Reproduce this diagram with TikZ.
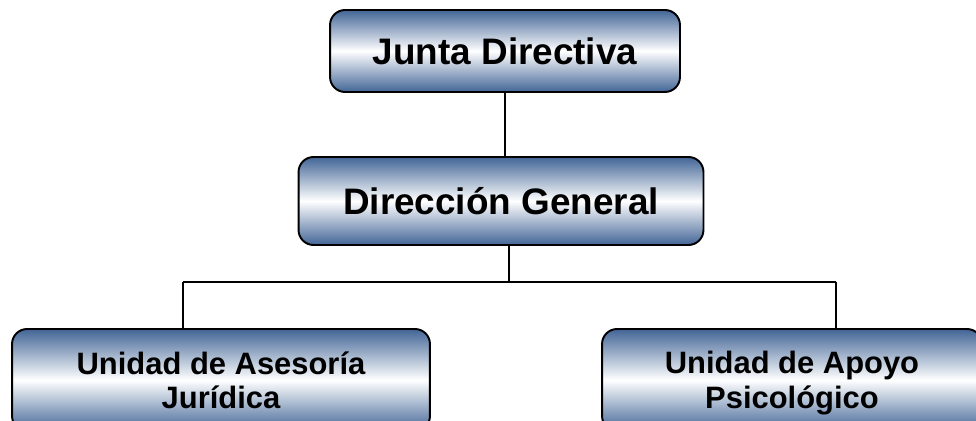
\documentclass[tikz,border=0pt]{standalone}
\usepackage{fontspec}
\setmainfont{Liberation Sans}
\definecolor{boxblue}{RGB}{66,101,150}

\begin{document}
\begin{tikzpicture}[x=0.02cm, y=-0.02cm,
    box/.style={draw=black, line width=1.1pt, rounded corners=0.3cm,
        top color=boxblue, bottom color=boxblue, middle color=white,
        align=center, inner sep=0pt},
    bigtxt/.style={font=\fontsize{21}{25}\selectfont\bfseries},
    smalltxt/.style={font=\fontsize{17.6}{19.6}\selectfont\bfseries, text depth=0pt},
    link/.style={line width=0.8pt}]

    \clip (0,0) rectangle (976,421);

	\node[box, bigtxt, minimum width=7cm, minimum height=1.64cm] (junta) at (505,51) {Junta Directiva};
	\node[box, bigtxt, minimum width=8.1cm, minimum height=1.76cm] (direccion) at (501,201) {Dirección General};
	\node[box, smalltxt, minimum width=8.36cm, minimum height=2.04cm] (juridica) at (221,380) {Unidad de Asesoría\\Jurídica};
	\node[box, smalltxt, minimum width=7.6cm, minimum height=2.04cm] (psico) at (792,380) {Unidad de Apoyo\\Psicológico};

    \coordinate (bus) at (509,282);
    \coordinate (busl) at (183,282);
    \coordinate (busr) at (836,282);

	\draw[link] (junta.south) -- (junta.south |- direccion.north);
	\draw[link] (bus |- direccion.south) -- (bus);
	\draw[link] (busl) -- (busr);
	\draw[link] (busl) -- (busl |- juridica.north);
	\draw[link] (busr) -- (busr |- psico.north);

\end{tikzpicture}
\end{document}
